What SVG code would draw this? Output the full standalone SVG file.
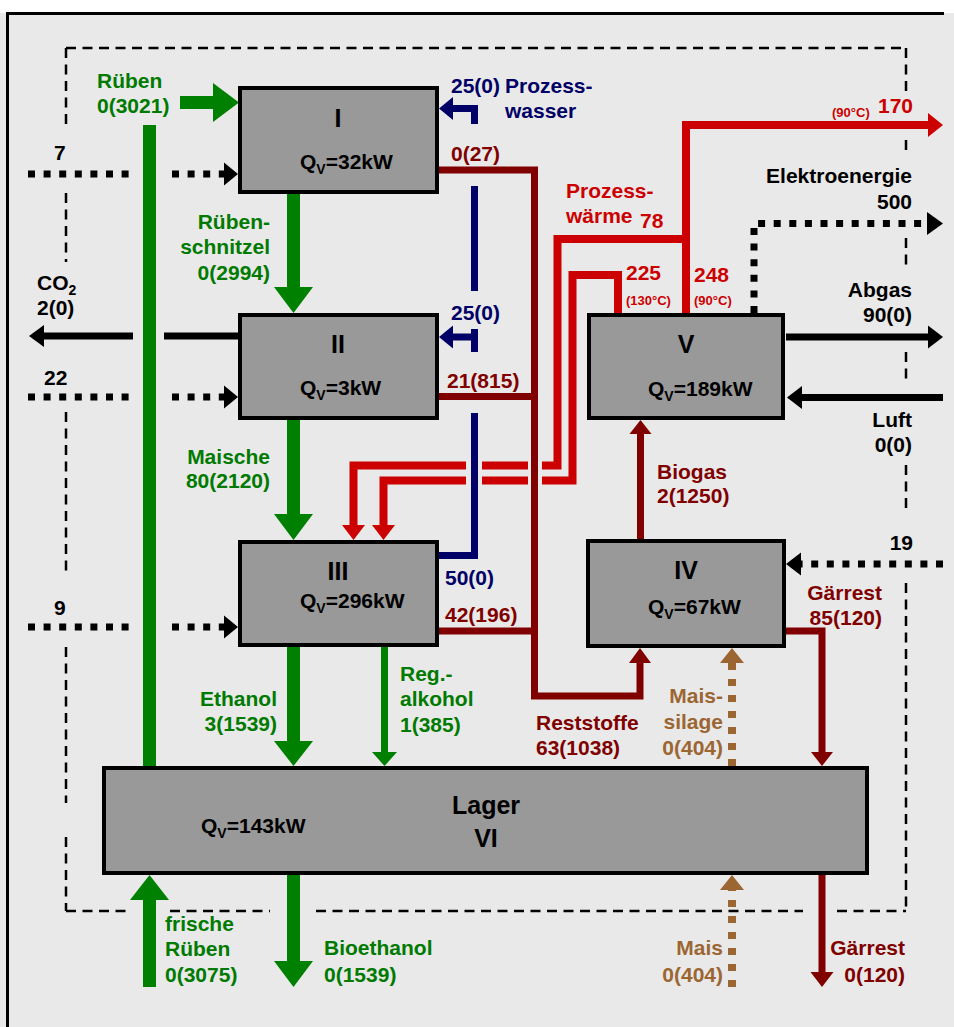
<svg xmlns="http://www.w3.org/2000/svg" width="954" height="1027" viewBox="0 0 954 1027">
<style>
text{font-family:"Liberation Sans",Arial,Helvetica,sans-serif;font-weight:bold;font-size:21px}
.e{text-anchor:end}
.m{text-anchor:middle}
.ti{font-size:25px;text-anchor:middle;fill:#000}
.s{font-size:13px}
.tg{fill:#007a00}.tb{fill:#000066}.td{fill:#800000}.tr{fill:#cc0000}.tk{fill:#000}.tn{fill:#9c6633}
.box{fill:#999999;stroke:#000;stroke-width:4}
.lg{stroke:#008000;stroke-width:13;fill:none}
.lgt{stroke:#008000;stroke-width:7;fill:none}
.lb{stroke:#000066;stroke-width:7;fill:none}
.ld{stroke:#800000;stroke-width:7;fill:none}
.lr{stroke:#cc0000;stroke-width:8;fill:none}
.lk{stroke:#000;stroke-width:7;fill:none}
.dk{stroke:#000;stroke-width:7;fill:none;stroke-dasharray:7 8.6}
.dn{stroke:#9c6633;stroke-width:8;fill:none;stroke-dasharray:7 9}
.da{stroke:#000;stroke-width:2.5;fill:none;stroke-dasharray:10 6.5}
.hg{fill:#008000}.hb{fill:#000066}.hd{fill:#800000}.hr{fill:#cc0000}.hk{fill:#000}.hn{fill:#9c6633}
</style>
<rect x="0" y="0" width="954" height="1027" fill="#e9e9e9"/>
<rect x="0" y="0" width="954" height="13" fill="#ffffff"/>
<path d="M7.5,1027 V13.5 H944" stroke="#000" stroke-width="3" fill="none"/>

<g id="boundary">
<path class="da" d="M66,48 H906"/>
<path class="da" d="M906,48 V92 M906,140 V152 M906,238 V268 M906,352 V381 M906,465 V513 M906,583 V911"/>
<path class="da" d="M66,911 H127 M170,911 H270 M316,911 H803 M837,911 H906"/>
<path class="da" d="M66,48 V124 M66,193 V262 M66,412 V572 M66,647 V803 M66,837 V911"/>
</g>

<g id="connectors">
<!-- green -->
<path class="lg" d="M180,102.5 H214"/><polygon class="hg" points="213,83 239,102.5 213,122"/>
<path class="lg" d="M149.5,125 V767"/>
<path class="lg" d="M293.5,194 V288"/><polygon class="hg" points="274,287 313,287 293.5,313"/>
<path class="lg" d="M293.5,420 V515"/><polygon class="hg" points="274,514 313,514 293.5,540"/>
<path class="lg" d="M293.5,647 V742"/><polygon class="hg" points="274,741 313,741 293.5,766"/>
<path class="lgt" d="M384.5,647 V753"/><polygon class="hg" points="372,752 397,752 384.5,766"/>
<path class="lg" d="M149.5,987 V899"/><polygon class="hg" points="130,900 169,900 149.5,875"/>
<path class="lg" d="M293.5,875 V962"/><polygon class="hg" points="274,961 313,961 293.5,987"/>
<!-- blue -->
<path class="lb" d="M452,108.5 H474.5 V124"/><polygon class="hb" points="453,97 439,108.5 453,120"/>
<path class="lb" d="M474.5,186 V291"/>
<path class="lb" d="M452,337 H474.5 M474.5,329 V352"/><polygon class="hb" points="453,325.5 439,337 453,348.5"/>
<path class="lb" d="M474.5,413 V555.5 H439"/>
<!-- dark red -->
<path class="ld" d="M439,170 H534.5 V696 H640 V662"/><polygon class="hd" points="629,663 651,663 640,648"/>
<path class="ld" d="M439,396.5 H534.5"/>
<path class="ld" d="M439,631 H534.5"/>
<path class="ld" d="M640.5,539 V433"/><polygon class="hd" points="629.5,434 651.5,434 640.5,420"/>
<path class="ld" d="M786,631 H822 V753"/><polygon class="hd" points="811,752 833,752 822,766"/>
<path class="ld" d="M822,875 V973"/><polygon class="hd" points="810.5,972 833.5,972 822,987"/>
<!-- red -->
<path class="lr" d="M686,313 V125 H929"/><polygon class="hr" points="928,113 943,125 928,137"/>
<path class="lr" d="M686,239 H557.5 V465.5 H542 M528,465.5 H482 M466,465.5 H353.5 V526"/><polygon class="hr" points="342,525 365,525 353.5,540"/>
<path class="lr" d="M618,313 V275 H572.5 V480.5 H542 M528,480.5 H482 M466,480.5 H383.5 V526"/><polygon class="hr" points="372,525 395,525 383.5,540"/>
<!-- black -->
<path class="lk" d="M238,336 H164 M133,336 H43"/><polygon class="hk" points="44,325 29,336 44,347"/>
<path class="lk" d="M786,337 H929"/><polygon class="hk" points="928,325.5 943,337 928,348.5"/>
<path class="lk" d="M943,397.5 H801"/><polygon class="hk" points="802,386 787,397.5 802,409"/>
<path class="dk" d="M28,174 H133 M172,174 H224"/><polygon class="hk" points="224,162.5 238,174 224,185.5"/>
<path class="dk" d="M28,397 H133 M172,397 H224"/><polygon class="hk" points="224,385.5 238,397 224,408.5"/>
<path class="dk" d="M28,627 H133 M172,627 H224"/><polygon class="hk" points="224,615.5 238,627 224,638.5"/>
<path class="dk" d="M754,313 V223.5 H927"/><polygon class="hk" points="927,212 943,223.5 927,235"/>
<path class="dk" d="M943,564 H801"/><polygon class="hk" points="801,552.5 786,564 801,575.5"/>
<!-- brown -->
<path class="dn" d="M732,766 V663"/><polygon class="hn" points="720,663 744,663 732,648"/>
<path class="dn" d="M732,987 V890"/><polygon class="hn" points="720,890 744,890 732,875"/>
</g>

<g id="node-I">
<rect class="box" x="240" y="88" width="197" height="104"/>
<text class="ti" x="338" y="127">I</text>
<text class="tk" x="300" y="169">Q<tspan font-size="14" dy="5">V</tspan><tspan dy="-5">=32kW</tspan></text>
</g>
<g id="node-II">
<rect class="box" x="240" y="315" width="197" height="103"/>
<text class="ti" x="338" y="353">II</text>
<text class="tk" x="300" y="395">Q<tspan font-size="14" dy="5">V</tspan><tspan dy="-5">=3kW</tspan></text>
</g>
<g id="node-III">
<rect class="box" x="240" y="542" width="197" height="103"/>
<text class="ti" x="338" y="580">III</text>
<text class="tk" x="300" y="608">Q<tspan font-size="14" dy="5">V</tspan><tspan dy="-5">=296kW</tspan></text>
</g>
<g id="node-IV">
<rect class="box" x="588" y="541" width="196" height="105"/>
<text class="ti" x="686" y="579">IV</text>
<text class="tk" x="648" y="614">Q<tspan font-size="14" dy="5">V</tspan><tspan dy="-5">=67kW</tspan></text>
</g>
<g id="node-V">
<rect class="box" x="589" y="315" width="194" height="103"/>
<text class="ti" x="686" y="353">V</text>
<text class="tk" x="648" y="396">Q<tspan font-size="14" dy="5">V</tspan><tspan dy="-5">=189kW</tspan></text>
</g>
<g id="node-VI">
<rect class="box" x="104" y="768" width="763" height="105"/>
<text class="ti" x="486" y="814">Lager</text>
<text class="ti" x="486" y="847">VI</text>
<text class="tk" x="201" y="833">Q<tspan font-size="14" dy="5">V</tspan><tspan dy="-5">=143kW</tspan></text>
</g>

<g id="labels">
<text class="tg" x="97" y="88">Rüben</text>
<text class="tg" x="97" y="113">0(3021)</text>
<text class="tg e" x="270" y="229">Rüben-</text>
<text class="tg e" x="270" y="254">schnitzel</text>
<text class="tg e" x="270" y="280">0(2994)</text>
<text class="tg e" x="270" y="464">Maische</text>
<text class="tg e" x="270" y="488">80(2120)</text>
<text class="tg e" x="277" y="706">Ethanol</text>
<text class="tg e" x="277" y="731">3(1539)</text>
<text class="tg" x="400" y="681">Reg.-</text>
<text class="tg" x="400" y="706">alkohol</text>
<text class="tg" x="400" y="732">1(385)</text>
<text class="tg" x="165" y="931">frische</text>
<text class="tg" x="165" y="956">Rüben</text>
<text class="tg" x="165" y="982">0(3075)</text>
<text class="tg" x="324" y="955">Bioethanol</text>
<text class="tg" x="324" y="982">0(1539)</text>

<text class="tb" x="451" y="93">25(0)</text>
<text class="tb" x="505" y="93">Prozess-</text>
<text class="tb" x="505" y="118">wasser</text>
<text class="tb" x="451" y="320">25(0)</text>
<text class="tb" x="445" y="585">50(0)</text>

<text class="td" x="451" y="161">0(27)</text>
<text class="td" x="447" y="388">21(815)</text>
<text class="td" x="445" y="622">42(196)</text>
<text class="td" x="536" y="730">Reststoffe</text>
<text class="td" x="536" y="755">63(1038)</text>
<text class="td" x="657" y="479">Biogas</text>
<text class="td" x="657" y="503">2(1250)</text>
<text class="td e" x="882" y="600">Gärrest</text>
<text class="td e" x="882" y="625">85(120)</text>
<text class="td e" x="905" y="955">Gärrest</text>
<text class="td e" x="905" y="982">0(120)</text>

<text class="tr s" x="832" y="117">(90°C)</text>
<text class="tr" x="878" y="113">170</text>
<text class="tr" x="566" y="198">Prozess-</text>
<text class="tr" x="566" y="223">wärme</text>
<text class="tr" x="640" y="228">78</text>
<text class="tr" x="626" y="280">225</text>
<text class="tr s" x="626" y="305">(130°C)</text>
<text class="tr" x="694" y="282">248</text>
<text class="tr s" x="694" y="305">(90°C)</text>

<text class="tk" x="54" y="160">7</text>
<text class="tk" x="37" y="290">CO<tspan font-size="14" dy="5">2</tspan></text>
<text class="tk" x="37" y="315">2(0)</text>
<text class="tk" x="44" y="385">22</text>
<text class="tk" x="54" y="615">9</text>
<text class="tk e" x="912" y="183">Elektroenergie</text>
<text class="tk e" x="912" y="209">500</text>
<text class="tk e" x="912" y="297">Abgas</text>
<text class="tk e" x="912" y="322">90(0)</text>
<text class="tk e" x="912" y="427">Luft</text>
<text class="tk e" x="912" y="452">0(0)</text>
<text class="tk e" x="913" y="550">19</text>

<text class="tn e" x="723" y="703">Mais-</text>
<text class="tn e" x="723" y="729">silage</text>
<text class="tn e" x="723" y="755">0(404)</text>
<text class="tn e" x="723" y="955">Mais</text>
<text class="tn e" x="723" y="982">0(404)</text>
</g>
</svg>
